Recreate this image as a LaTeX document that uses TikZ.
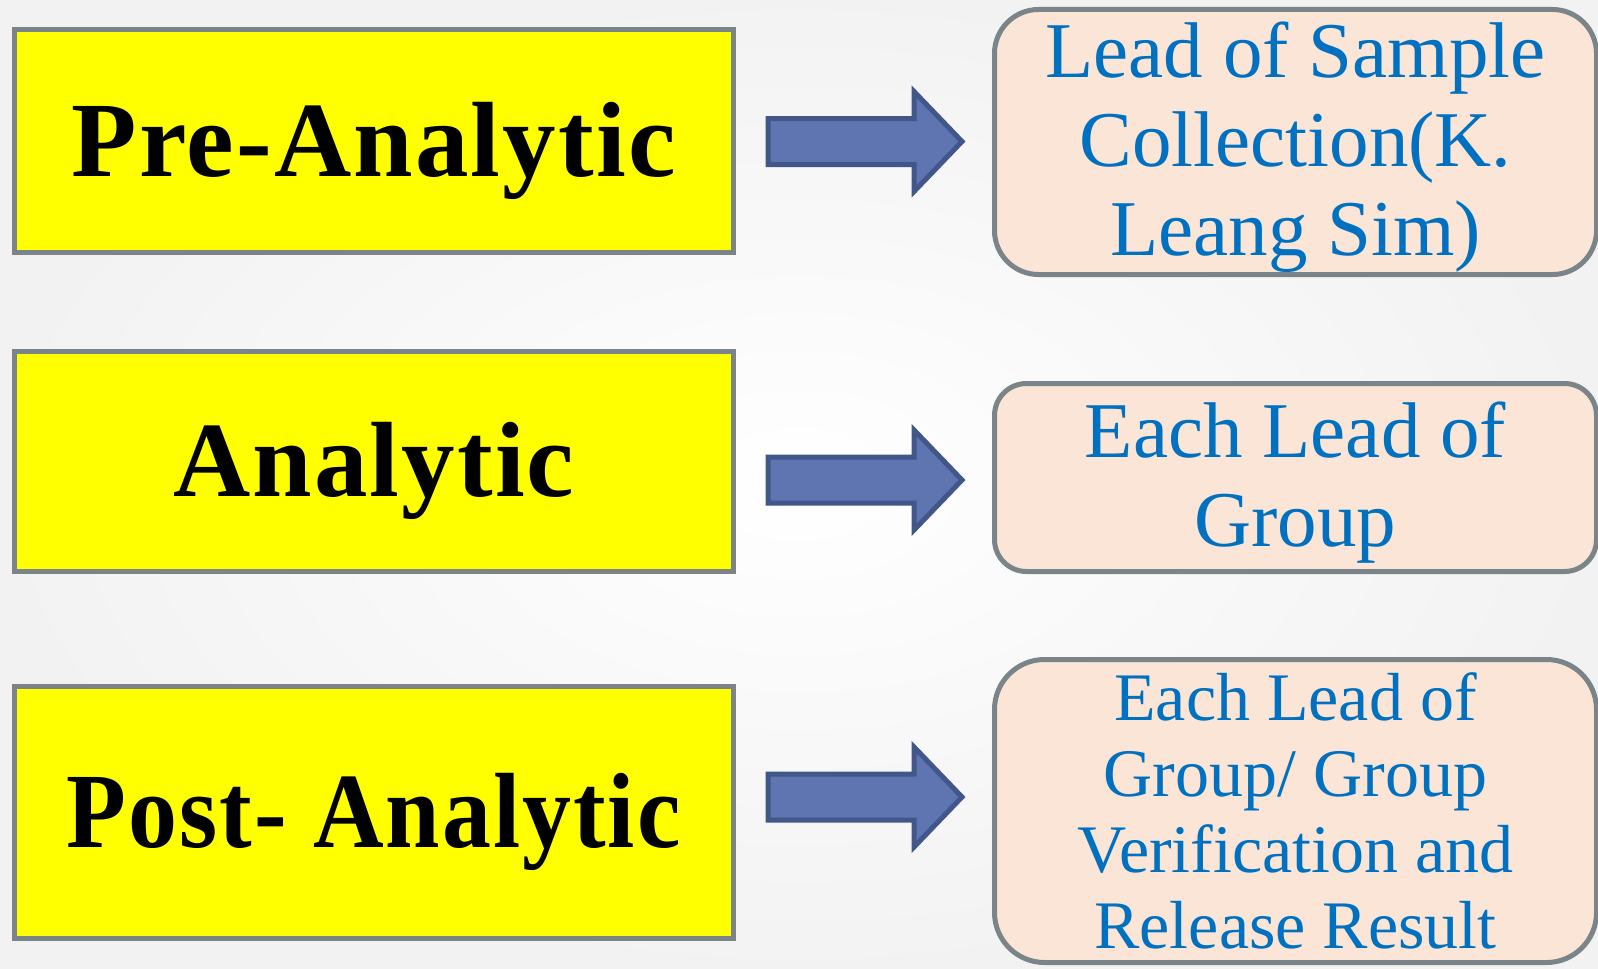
\documentclass[tikz,border=0pt]{standalone}
\usepackage{fontspec}
\setmainfont{Liberation Serif}
\definecolor{ybord}{HTML}{7A8489}
\definecolor{yfill}{HTML}{FFFF00}
\definecolor{pfill}{HTML}{FBE5D6}
\definecolor{btext}{HTML}{0070C0}
\definecolor{afill}{HTML}{5E75B1}
\definecolor{aedge}{HTML}{42568A}
\begin{document}
\begin{tikzpicture}[x=1bp,y=-1bp,
  ybox/.style={draw=ybord, line width=5bp, fill=yfill, inner sep=0pt,
    font=\bfseries\fontsize{107bp}{110bp}\selectfont\addfontfeature{LetterSpace=2},
    text=black, text height=71bp, text depth=0pt},
  pbox/.style={draw=ybord, line width=5bp, fill=pfill, inner sep=0pt},
  ptext/.style={align=center, text=btext, inner sep=0pt},
  barrow/.style={draw=aedge, fill=afill, line width=5bp, line join=miter}]
\useasboundingbox (0,0) rectangle (1598,968);
\shade[inner color=white, outer color=black!5] (0,0) rectangle (1598,968);
% left boxes
\node[ybox, minimum width=718.5bp, minimum height=223bp] (pre) at (373.75,141) {Pre-Analytic};
\node[ybox, minimum width=718.5bp, minimum height=220bp] (ana) at (373.75,461) {Analytic};
\node[ybox, minimum width=718.5bp, minimum height=252bp] (post) at (373.75,812) {\scalebox{0.915}[1]{Post- Analytic}};
% right boxes
\node[pbox, rounded corners=44bp, minimum width=602bp, minimum height=265bp] (r1) at (1295.5,142) {};
\node[ptext, font=\fontsize{79bp}{89bp}\selectfont] (r1t) at ([yshift=-5bp]r1.center)
  {Lead of Sample\\Collection(K.\\Leang Sim)};
\node[pbox, rounded corners=32bp, minimum width=602bp, minimum height=188bp] (r2) at (1295.5,477.5) {};
\node[ptext, font=\fontsize{79bp}{89bp}\selectfont] (r2t) at ([yshift=-5bp]r2.center)
  {Each Lead of\\Group};
\node[pbox, rounded corners=50bp, minimum width=602bp, minimum height=303bp] (r3) at (1295.5,811) {};
\node[ptext, font=\fontsize{68bp}{76bp}\selectfont] (r3t) at (r3.center)
  {Each Lead of\\Group/ Group\\Verification and\\Release Result};
% block arrows
\foreach \yy/\nm in {141.5/a1, 480/a2, 797/a3}{
  \draw[barrow] (768,\yy-23) -- (914,\yy-23) -- (914,\yy-50) -- (962,\yy)
    -- (914,\yy+50) -- (914,\yy+23) -- (768,\yy+23) -- cycle;
}
\end{tikzpicture}
\end{document}
